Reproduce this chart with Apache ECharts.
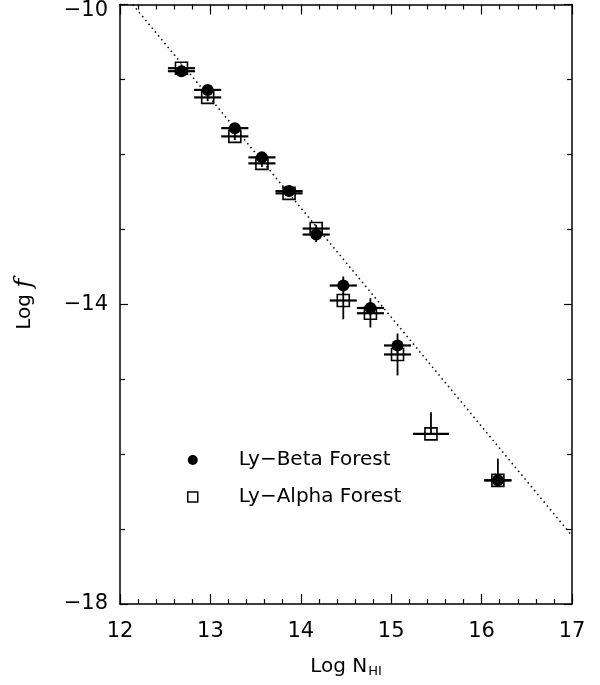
<!DOCTYPE html>
<html>
<head>
<meta charset="utf-8">
<script src="https://cdn.jsdelivr.net/npm/echarts@6/dist/echarts.min.js"></script>
<style>html,body{margin:0;padding:0;background:#fff}#c{width:600px;height:685px}</style>
</head>
<body>
<div id="c"></div>
<script>
// Ly-Beta forest points
var betaX = [12.68, 12.97, 13.27, 13.57, 13.87, 14.17, 14.47, 14.77, 15.07, 16.18];
var betaY = [-10.89, -11.14, -11.65, -12.04, -12.49, -13.07, -13.75, -14.05, -14.55, -16.35];
var betaXErr = [0.15, 0.15, 0.15, 0.15, 0.15, 0.15, 0.15, 0.15, 0.15, 0.15];
var betaYErrUp = [0.05, 0.05, 0.05, 0.05, 0.05, 0.10, 0.12, 0.13, 0.16, 0.29];
var betaYErrDown = [0.05, 0.05, 0.05, 0.05, 0.05, 0.10, 0.12, 0.10, 0.10, 0.0];
// Ly-Alpha forest points
var alphaX = [12.68, 12.97, 13.27, 13.57, 13.87, 14.17, 14.47, 14.77, 15.07, 15.44, 16.18];
var alphaY = [-10.85, -11.24, -11.76, -12.12, -12.52, -12.99, -13.95, -14.12, -14.67, -15.73, -16.35];
var alphaXErr = [0.15, 0.15, 0.15, 0.15, 0.15, 0.15, 0.15, 0.15, 0.15, 0.20, 0.15];
var alphaYErrUp = [0.05, 0.05, 0.05, 0.05, 0.05, 0.05, 0.10, 0.10, 0.10, 0.29, 0.0];
var alphaYErrDown = [0.05, 0.05, 0.05, 0.05, 0.05, 0.05, 0.25, 0.19, 0.28, 0.0, 0.0];
// dotted reference power law
var fitX = [12.14, 17.0];
var fitY = [-10.0, -17.09];
// axis ticks
var xTicks = [12, 13, 14, 15, 16, 17];
var yTicks = [-18, -14, -10];
var legendNames = ['Ly\u2212Beta Forest', 'Ly\u2212Alpha Forest'];

function pts(xs, ys) { return xs.map(function (x, i) { return [x, ys[i]]; }); }
function errs(xs, ys, ex, eu, ed) { return xs.map(function (x, i) { return [x, ys[i], ex[i], eu[i], ed[i]]; }); }

var errData = errs(betaX, betaY, betaXErr, betaYErrUp, betaYErrDown)
  .concat(errs(alphaX, alphaY, alphaXErr, alphaYErrUp, alphaYErrDown));

var FONT = 'DejaVu Sans';
var chart = echarts.init(document.getElementById('c'), null, { renderer: 'canvas' });

function axisCommon(extra) {
  return Object.assign({
    axisLine: { show: true, onZero: false, lineStyle: { color: '#000', width: 1.5 } },
    splitLine: { show: false },
    axisTick: { show: true, inside: true, length: 10, lineStyle: { color: '#000', width: 1.2 } },
    minorTick: { show: true, length: 5, lineStyle: { color: '#000', width: 1.2 } }
  }, extra);
}

var option = {
  animation: false,
  backgroundColor: '#fff',
  grid: { left: 120, right: 28, top: 4, bottom: 81, containLabel: false },
  xAxis: [
    axisCommon({
      type: 'value', min: 12, max: 17, interval: 1, position: 'bottom',
      minorTick: { show: true, splitNumber: 5, length: 5, lineStyle: { color: '#000', width: 1.2 } },
      axisLabel: { show: true, margin: 17, color: '#000', fontFamily: FONT, fontSize: 21,
        formatter: function (v) { return xTicks.indexOf(v) >= 0 ? String(v) : ''; } },
      name: 'Log N{sub|HI}', nameLocation: 'middle', nameGap: 51,
      nameTextStyle: { color: '#000', fontFamily: FONT, fontSize: 20,
        rich: { sub: { fontFamily: FONT, fontSize: 13, color: '#000', verticalAlign: 'bottom', padding: [10, 0, 0, 1] } } }
    }),
    axisCommon({
      type: 'value', min: 12, max: 17, interval: 1, position: 'top',
      minorTick: { show: true, splitNumber: 5, length: 5, lineStyle: { color: '#000', width: 1.2 } },
      axisLabel: { show: false }
    })
  ],
  yAxis: [
    axisCommon({
      type: 'value', min: -18, max: -10, interval: 4, position: 'left',
      axisTick: { show: true, inside: true, length: 8, lineStyle: { color: '#000', width: 1.2 } },
      minorTick: { show: true, splitNumber: 4, length: 5, lineStyle: { color: '#000', width: 1.2 } },
      axisLabel: { show: true, margin: 12, color: '#000', fontFamily: FONT, fontSize: 21,
        formatter: function (v) {
          if (yTicks.indexOf(v) < 0) return '';
          var s = String(v).replace('-', '\u2212');
          return v === -10 ? '{top|' + s + '}' : s;
        },
        rich: { top: { fontFamily: FONT, fontSize: 21, color: '#000', padding: [12, 0, 0, 0] } } },
      name: 'Log {f|f}', nameLocation: 'middle', nameGap: 83, nameRotate: 90,
      nameTextStyle: { color: '#000', fontFamily: FONT, fontSize: 20,
        rich: { f: { fontFamily: 'DejaVu Serif', fontStyle: 'italic', fontSize: 24, color: '#000' } } }
    }),
    axisCommon({
      type: 'value', min: -18, max: -10, interval: 4, position: 'right',
      axisTick: { show: true, inside: true, length: 8, lineStyle: { color: '#000', width: 1.2 } },
      minorTick: { show: true, splitNumber: 4, length: 5, lineStyle: { color: '#000', width: 1.2 } },
      axisLabel: { show: false }
    })
  ],
  legend: {
    orient: 'vertical', left: 182, top: 445,
    itemWidth: 10, itemHeight: 10, itemGap: 17,
    selectedMode: false,
    textStyle: { color: '#000', fontFamily: FONT, fontSize: 20, lineHeight: 20, padding: [0, 0, 0, 36] },
    data: [
      { name: legendNames[0], icon: 'circle', itemStyle: { color: '#000', borderWidth: 0, opacity: 1 } },
      { name: legendNames[1], icon: 'rect', itemStyle: { color: 'rgba(0,0,0,0)', borderColor: '#000', borderWidth: 1.5, opacity: 1 } }
    ]
  },
  series: [
    {
      type: 'line', name: 'fit', data: pts(fitX, fitY), showSymbol: false, symbol: 'none',
      lineStyle: { color: '#000', width: 1.5, type: [1.5, 3.5] }, z: 1, silent: true
    },
    {
      type: 'custom', name: 'errors', data: errData, z: 2, silent: true,
      renderItem: function (params, api) {
        var x = api.value(0), y = api.value(1), ex = api.value(2), eu = api.value(3), ed = api.value(4);
        var c = api.coord([x, y]);
        var l = api.coord([x - ex, y]), r = api.coord([x + ex, y]);
        var t = api.coord([x, y + eu]), b = api.coord([x, y - ed]);
        var st = { stroke: '#000', lineWidth: 2.2 };
        var ch = [{ type: 'line', shape: { x1: l[0], y1: c[1], x2: r[0], y2: c[1] }, style: st }];
        if (eu + ed > 0) ch.push({ type: 'line', shape: { x1: c[0], y1: t[1], x2: c[0], y2: b[1] }, style: { stroke: '#000', lineWidth: 1.8 } });
        return { type: 'group', children: ch };
      },
      encode: { x: 0, y: 1 }
    },
    {
      type: 'scatter', name: legendNames[1], data: pts(alphaX, alphaY), symbol: 'rect', symbolSize: 12, z: 3,
      itemStyle: { color: 'rgba(0,0,0,0)', borderColor: '#000', borderWidth: 1.6, opacity: 1 }
    },
    {
      type: 'scatter', name: legendNames[0], data: pts(betaX, betaY), symbol: 'circle', symbolSize: 12, z: 4,
      itemStyle: { color: '#000', opacity: 1 }
    }
  ]
};
chart.setOption(option);
</script>
</body>
</html>
